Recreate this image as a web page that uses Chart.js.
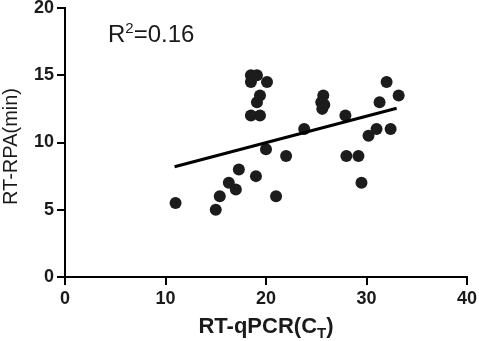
<!DOCTYPE html>
<html>
<head>
<meta charset="utf-8">
<script src="https://cdn.jsdelivr.net/npm/chart.js@4.4.0/dist/chart.umd.min.js"></script>
<style>
html,body{margin:0;padding:0;background:#fff;}
canvas{display:block;}
</style>
</head>
<body>
<canvas id="c" width="479" height="341"></canvas>
<script>
// Data
const ctValues = [11, 15, 15.4, 16.3, 17, 17.3, 18.5, 19.1, 18.5, 20.1, 19.4, 19.1, 18.5, 19.4, 19, 20, 21, 22, 23.8, 25.7, 25.5, 25.8, 25.6, 27.9, 28, 29.2, 29.5, 30.2, 31, 31.3, 32, 32.4, 33.2];
const rpaValues = [5.5, 5, 6, 7, 6.5, 8, 15, 15, 14.5, 14.5, 13.5, 13, 12, 12, 7.5, 9.5, 6, 9, 11, 13.5, 13, 12.8, 12.5, 12, 9, 9, 7, 10.5, 11, 13, 14.5, 11, 13.5];
const fitX = [10.9, 33];
const fitY = [8.2, 12.55];
const xTicks = [0, 10, 20, 30, 40];
const yTicks = [0, 5, 10, 15, 20];
const xTitleMain = 'RT-qPCR(C';
const xTitleSub = 'T';
const xTitleEnd = ')';
const yTitle = 'RT-RPA(min)';
const rLabel = 'R';
const rSup = '2';
const rValue = '=0.16';

const points = ctValues.map((x, i) => ({x: x, y: rpaValues[i]}));
const fitLine = fitX.map((x, i) => ({x: x, y: fitY[i]}));

const textPlugin = {
  id: 'texts',
  afterDraw(chart) {
    const ctx = chart.ctx;
    const area = chart.chartArea;
    ctx.save();
    ctx.fillStyle = '#1a1a1a';
    // Y title
    ctx.save();
    ctx.translate(17, (area.top + area.bottom) / 2 + 4);
    ctx.rotate(-Math.PI / 2);
    ctx.font = '20px "Liberation Sans", Arial, sans-serif';
    ctx.textAlign = 'center';
    ctx.textBaseline = 'alphabetic';
    ctx.fillText(yTitle, 0, 0);
    ctx.restore();
    // X title with subscript
    const big = 'bold 22px "Liberation Sans", Arial, sans-serif';
    const small = 'bold 15px "Liberation Sans", Arial, sans-serif';
    ctx.font = big;
    const w1 = ctx.measureText(xTitleMain).width;
    const w3 = ctx.measureText(xTitleEnd).width;
    ctx.font = small;
    const w2 = ctx.measureText(xTitleSub).width;
    const cx = chart.scales.x.getPixelForValue(20);
    let sx = cx - (w1 + w2 + w3) / 2;
    const base = 333;
    ctx.textAlign = 'left';
    ctx.textBaseline = 'alphabetic';
    ctx.font = big;
    ctx.fillText(xTitleMain, sx, base);
    ctx.font = small;
    ctx.fillText(xTitleSub, sx + w1, base + 5);
    ctx.font = big;
    ctx.fillText(xTitleEnd, sx + w1 + w2, base);
    // R^2 annotation
    ctx.font = '24px "Liberation Sans", Arial, sans-serif';
    const rx = 108, ry = 42;
    ctx.fillText(rLabel, rx, ry);
    const rw = ctx.measureText(rLabel).width;
    ctx.font = '15px "Liberation Sans", Arial, sans-serif';
    ctx.fillText(rSup, rx + rw, ry - 9);
    const sw = ctx.measureText(rSup).width;
    ctx.font = '24px "Liberation Sans", Arial, sans-serif';
    ctx.fillText(rValue, rx + rw + sw, ry);
    ctx.restore();
  }
};

new Chart(document.getElementById('c'), {
  type: 'scatter',
  data: {
    datasets: [
      {
        type: 'line',
        data: fitLine,
        borderColor: '#000',
        borderWidth: 3,
        pointRadius: 0,
        fill: false,
        order: 0
      },
      {
        data: points,
        backgroundColor: '#1c1c1c',
        borderColor: '#1c1c1c',
        borderWidth: 0,
        pointRadius: 6,
        order: 1
      }
    ]
  },
  options: {
    responsive: false,
    animation: false,
    devicePixelRatio: 1,
    layout: {padding: {left: 0, top: 0, right: 0, bottom: 0}},
    plugins: {legend: {display: false}, tooltip: {enabled: false}},
    scales: {
      x: {
        type: 'linear',
        min: 0, max: 40,
        afterBuildTicks(scale) { scale.ticks = xTicks.map(v => ({value: v})); },
        afterFit(scale) { scale.height = 64; scale.paddingRight = 12; scale.paddingLeft = 0; },
        border: {color: '#000', width: 2},
        grid: {drawOnChartArea: false, drawTicks: true, tickLength: 8, color: '#000', lineWidth: 2},
        ticks: {color: '#1a1a1a', padding: 5, font: {family: '"Liberation Sans", Arial, sans-serif', size: 18, weight: 'bold', lineHeight: 1}, maxRotation: 0}
      },
      y: {
        type: 'linear',
        min: 0, max: 20,
        afterBuildTicks(scale) { scale.ticks = yTicks.map(v => ({value: v})); },
        afterFit(scale) { scale.width = 65; scale.paddingTop = 8; scale.paddingBottom = 0; },
        border: {color: '#000', width: 2},
        grid: {drawOnChartArea: false, drawTicks: true, tickLength: 8, color: '#000', lineWidth: 2},
        ticks: {color: '#1a1a1a', padding: 3, font: {family: '"Liberation Sans", Arial, sans-serif', size: 18, weight: 'bold', lineHeight: 0.85}}
      }
    }
  },
  plugins: [textPlugin]
});
</script>
</body>
</html>
